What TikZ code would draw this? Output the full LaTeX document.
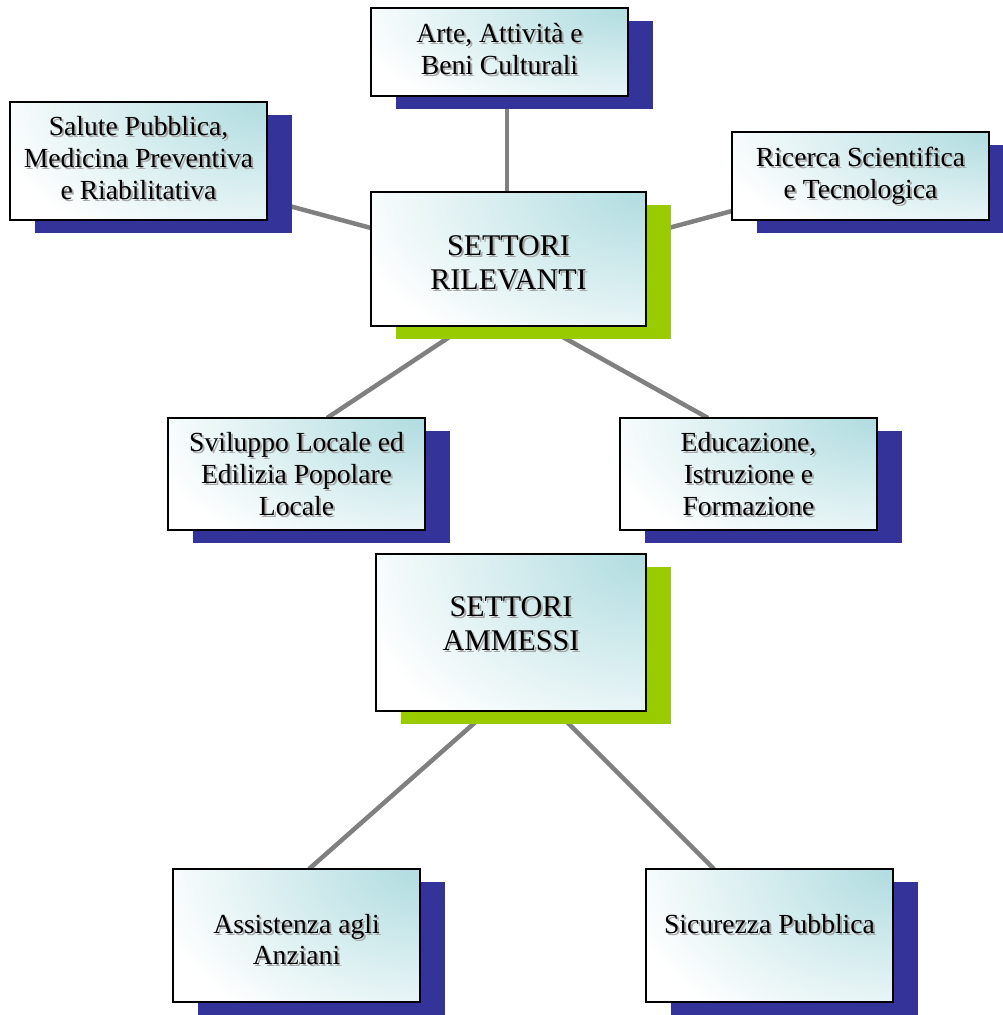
\documentclass[tikz,border=0pt]{standalone}
\usepackage{fontspec}
\setmainfont{Liberation Serif}
\usetikzlibrary{calc}
\pgfdeclarelayer{bg}
\pgfdeclarelayer{lines}
\pgfsetlayers{bg,lines,main}
\definecolor{navyc}{HTML}{333399}
\definecolor{greenc}{HTML}{99CC00}
\definecolor{tealc}{HTML}{B0DCE0}
\definecolor{linec}{HTML}{808080}
\definecolor{tshc}{HTML}{A8A8A8}
\tikzset{
  boxn/.style={draw=black, line width=1.6pt, inner sep=0pt, outer sep=0pt, fill=white},
  txtn/.style={align=center, inner sep=0pt, text=black},
  txtsh/.style={align=center, inner sep=0pt, text=tshc},
  conn/.style={draw=linec, line width=4.5pt},
  smallf/.style={font=\fontsize{27.6}{31.8}\selectfont},
  bigf/.style={font=\fontsize{30}{34}\selectfont},
}
% name, x1, y1, x2, y2, shadow colour, text dy, font style, text
\newcommand\mkbox[9]{%
  \fill[#6] (#2+25,#3+12.5) rectangle (#4+25,#5+12.5);
  \node[boxn, minimum width={#4-#2}, minimum height={#5-#3},
    path picture={\shade[inner color=tealc, outer color=white]
      (path picture bounding box.north east) ellipse [x radius={1.1*(#4-#2)}, y radius={1.4*(#5-#3)}];}]
    (#1) at ({(#2+#4)/2},{(#3+#5)/2}) {};
  \node[txtsh,#8] at ($(#1.center)+(2,#7+2)$) {#9};
  \node[txtn,#8] (#1t) at ($(#1.center)+(0,#7)$) {#9};
}
\begin{document}
\begin{tikzpicture}[x=1pt,y=-1pt]
\begin{pgfonlayer}{bg}
\fill[white] (0,0) rectangle (1003,1015);
\end{pgfonlayer}
\useasboundingbox (0,0) rectangle (1003,1015);
\mkbox{arte}{371}{8}{628}{96}{navyc}{-3}{smallf}{Arte, Attività e\\Beni Culturali}
\mkbox{sal}{10}{102}{267}{220}{navyc}{-3}{smallf}{Salute Pubblica,\\Medicina Preventiva\\e Riabilitativa}
\mkbox{ric}{732}{132}{989}{220}{navyc}{0}{smallf}{Ricerca Scientifica\\e Tecnologica}
\mkbox{ril}{371}{192}{646}{326}{greenc}{4}{bigf}{SETTORI\\RILEVANTI}
\mkbox{svi}{168}{418}{425}{530}{navyc}{0}{smallf}{Sviluppo Locale ed\\Edilizia Popolare\\Locale}
\mkbox{edu}{620}{418}{877}{530}{navyc}{0}{smallf}{Educazione,\\Istruzione e\\Formazione}
\mkbox{amm}{376}{554}{646}{711}{greenc}{-9}{bigf}{SETTORI\\AMMESSI}
\mkbox{ass}{173}{869}{420}{1002}{navyc}{4}{smallf}{Assistenza agli\\Anziani}
\mkbox{sic}{646}{869}{893}{1002}{navyc}{-11}{smallf}{Sicurezza Pubblica}
\begin{pgfonlayer}{lines}
\draw[conn] ([xshift=7.5]arte.south) -- ([xshift=-1.5]ril.north);
\draw[conn] ([yshift=-39]sal.east) -- ([yshift=31]ril.west);
\draw[conn] ([yshift=-35]ric.west) -- ([yshift=25]ril.east);
\draw[conn] ([xshift=-42.5]ril.south) -- ([xshift=30.5]svi.north);
\draw[conn] ([xshift=34.5]ril.south) -- ([xshift=-40.5]edu.north);
\draw[conn] ([xshift=-23]amm.south) -- ([xshift=12.5]ass.north);
\draw[conn] ([xshift=45]amm.south) -- ([xshift=-55.5]sic.north);
\end{pgfonlayer}
\end{tikzpicture}
\end{document}
